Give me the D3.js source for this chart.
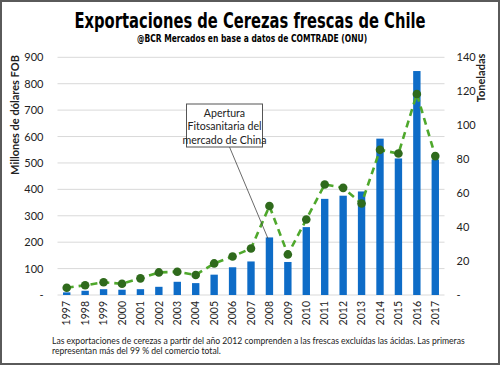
<!DOCTYPE html>
<html><head><meta charset="utf-8">
<script src="https://cdn.jsdelivr.net/npm/d3@7"></script>
<style>
html,body{margin:0;padding:0;background:#fff;}
svg{display:block;}
</style></head>
<body>
<script>
const years = ["1997","1998","1999","2000","2001","2002","2003","2004","2005","2006","2007","2008","2009","2010","2011","2012","2013","2014","2015","2016","2017"];
const valueUSD = [10,16,22,20,22,31,50,45,77,105,127,218,125,257,364,376,392,592,517,848,513];
const tonnes = [4.3,5.7,7.5,6.6,9.8,13.3,13.7,11.8,18.6,22.7,27.4,52.4,23.9,44.5,65.1,63.1,53.9,85.5,83.3,118.4,81.8];
const leftTicks = [0,100,200,300,400,500,600,700,800,900];
const rightTicks = [0,20,40,60,80,100,120,140];
const titleText = "Exportaciones de Cerezas frescas de Chile";
const subtitleText = "@BCR Mercados en base a datos de COMTRADE (ONU)";
const leftLabel = "Millones de dólares FOB";
const rightLabel = "Toneladas";
const annotationLines = ["Apertura","Fitosanitaria del","mercado de China"];
const annotationYear = "2008";
const noteLines = ["Las exportaciones de cerezas a partir del año 2012  comprenden a las frescas excluídas las ácidas. Las primeras","representan más del 99 % del comercio total."];

const W = 500, H = 365;
const m = {left:57.5, right:444.5, top:57.3, bottom:295};
const font = "Lato, 'Open Sans', sans-serif";
const condensed = "'DejaVu Sans Condensed','DejaVu Sans',sans-serif";

const svg = d3.select("body").append("svg").attr("width", W).attr("height", H);
svg.append("rect").attr("x",1).attr("y",1).attr("width",W-2).attr("height",H-2)
  .attr("fill","#fff").attr("stroke","#5a5a5a").attr("stroke-width",2);

const x = d3.scaleBand().domain(years).range([m.left, m.right]).paddingInner(0.6).paddingOuter(0.3);
const yL = d3.scaleLinear().domain([0,900]).range([m.bottom, m.top]);
const yR = d3.scaleLinear().domain([0,140]).range([m.bottom, m.top]);

// gridlines
svg.append("g").selectAll("line").data(leftTicks.filter(d=>d>0)).join("line")
  .attr("x1", m.left).attr("x2", m.right)
  .attr("y1", d=>yL(d)).attr("y2", d=>yL(d))
  .attr("stroke","#d9d9d9").attr("stroke-width",1);
svg.append("line").attr("x1", m.left).attr("x2", m.right)
  .attr("y1", yL(0)).attr("y2", yL(0)).attr("stroke","#d9d9d9");

// left axis
const fmt = d => d === 0 ? "-" : d3.format(",")(d);
const gl = svg.append("g").attr("transform",`translate(${m.left-12},0)`)
  .call(d3.axisLeft(yL).tickValues(leftTicks).tickFormat(fmt).tickSize(0).tickPadding(2));
gl.select(".domain").remove();
gl.selectAll("text").attr("font-family",font).attr("font-size",11).attr("fill","#222");

// right axis
const gr = svg.append("g").attr("transform",`translate(${m.right+10},0)`)
  .call(d3.axisRight(yR).tickValues(rightTicks).tickFormat(fmt).tickSize(0).tickPadding(2));
gr.select(".domain").remove();
gr.selectAll("text").attr("font-family",font).attr("font-size",11).attr("fill","#222");

// bottom axis
const gb = svg.append("g").attr("transform",`translate(0,${m.bottom})`)
  .call(d3.axisBottom(x).tickSize(0).tickPadding(0));
gb.select(".domain").remove();
gb.selectAll("text").attr("font-family",font).attr("font-size",10.5).attr("fill","#222")
  .attr("transform","rotate(-90)").attr("text-anchor","end")
  .attr("x",-6).attr("y",0).attr("dy","0.35em");

// bars
svg.append("g").selectAll("rect").data(years).join("rect")
  .attr("x", d=>x(d)).attr("width", x.bandwidth())
  .attr("y", (d,i)=>yL(valueUSD[i])).attr("height",(d,i)=>yL(0)-yL(valueUSD[i]))
  .attr("fill","#0e6cc7");

// line
const cx = d => x(d) + x.bandwidth()/2;
const line = d3.line().x((d,i)=>cx(years[i])).y(d=>yR(d));
svg.append("path").datum(tonnes).attr("d", line).attr("fill","none")
  .attr("stroke","#4fa82c").attr("stroke-width",2.6).attr("stroke-dasharray","7,5");
svg.append("g").selectAll("circle").data(tonnes).join("circle")
  .attr("cx",(d,i)=>cx(years[i])).attr("cy",d=>yR(d)).attr("r",4.3)
  .attr("fill","#2f6a1c");

// annotation
const ai = years.indexOf(annotationYear);
const bx = 186.5, by = 104, bw = 76, bh = 43;
svg.append("line").attr("x1", bx+bw/2+5).attr("y1", by+bh)
  .attr("x2", cx(annotationYear)-1.5).attr("y2", yL(valueUSD[ai])+1)
  .attr("stroke","#444").attr("stroke-width",0.8);
svg.append("rect").attr("x",bx).attr("y",by).attr("width",bw).attr("height",bh)
  .attr("fill","#fff").attr("stroke","#555").attr("stroke-width",1);
svg.append("g").selectAll("text").data(annotationLines).join("text")
  .attr("x", bx+bw/2).attr("y",(d,i)=>by+13+i*13.3)
  .attr("text-anchor","middle").attr("font-family",font).attr("font-size",10.6)
  .attr("fill","#222").text(d=>d);

// titles (horizontally condensed to mimic the narrow display face)
svg.append("text").attr("transform","translate(250,27.5) scale(0.78,1)").attr("text-anchor","middle")
  .attr("font-family",condensed)
  .attr("font-weight","bold").attr("font-size",21).attr("fill","#000")
  .text(titleText);
svg.append("text").attr("transform","translate(252,42) scale(0.8,1)").attr("text-anchor","middle")
  .attr("font-family",condensed)
  .attr("font-weight","bold").attr("font-size",10.5).attr("fill","#000")
  .text(subtitleText);

// axis titles
svg.append("text").attr("transform","translate(19,115) rotate(-90)").attr("text-anchor","middle")
  .attr("font-family",font).attr("font-weight","bold").attr("font-size",11).attr("fill","#222")
  .text(leftLabel);
svg.append("text").attr("transform","translate(485,78) rotate(-90)").attr("text-anchor","middle")
  .attr("font-family",font).attr("font-weight","bold").attr("font-size",11).attr("fill","#222")
  .text(rightLabel);

// note
svg.append("g").selectAll("text").data(noteLines).join("text")
  .attr("x",52).attr("y",(d,i)=>344+i*10).attr("font-family",font).attr("font-size",8.6)
  .attr("fill","#222").text(d=>d);
</script>
</body></html>
